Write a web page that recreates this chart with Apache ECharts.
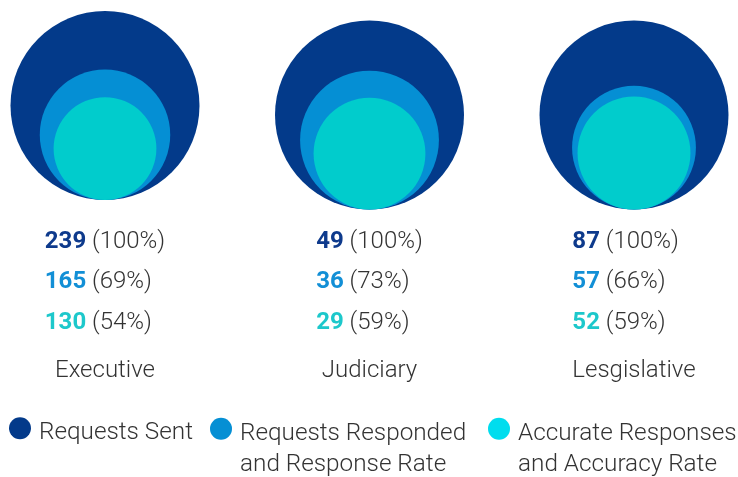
<!DOCTYPE html>
<html><head><meta charset="utf-8">
<script src="https://cdn.jsdelivr.net/npm/echarts@6/dist/echarts.min.js"></script>
<style>html,body{margin:0;padding:0;background:#fff}#c{width:738px;height:477px}</style>
</head><body><div id="c"></div>
<script>
// ---- data ----
const categories = ['Executive', 'Judiciary', 'Lesgislative'];
const seriesNames = ['Requests Sent', 'Requests Responded and Response Rate', 'Accurate Responses and Accuracy Rate'];
const legendLines = [['Requests Sent'], ['Requests Responded', 'and Response Rate'], ['Accurate Responses', 'and Accuracy Rate']];
const requestsSent = [239, 49, 87];
const requestsResponded = [165, 36, 57];
const accurateResponses = [130, 29, 52];
const pctSent = [100, 100, 100];
const pctResponded = [69, 73, 66];
const pctAccurate = [54, 59, 59];

// ---- style / layout ----
const circleColors = ['#033a8a', '#058fd4', '#01cccc'];
const legendColors = ['#033a8a', '#058fd4', '#00ddee'];
const numColors = ['#0e3a8c', '#128fd6', '#1dc8cb'];
const textColor = '#333333';
const FONT = 'Roboto';
const FS = 24;
const LFS = 24.3;
const OUTER_D = 189;           // pixel diameter of the full (100%) circle
const rowShift = [-9.5, 0, 0]; // vertical nudge per group
const legendLeft = [9, 210, 488];

const valueSets = [requestsSent, requestsResponded, accurateResponses];
const pctSets = [pctSent, pctResponded, pctAccurate];

const chart = echarts.init(document.getElementById('c'), null, {renderer: 'canvas'});

const series = valueSets.map((vals, s) => ({
  type: 'scatter',
  name: seriesNames[s],
  clip: false,
  silent: true,
  symbol: 'circle',
  itemStyle: {color: circleColors[s], opacity: 1},
  data: vals.map((v, i) => {
    const d = v / requestsSent[i] * OUTER_D;
    return {
      value: [categories[i], 0],
      symbolSize: d,
      symbolOffset: [0, -d / 2 + rowShift[i]]
    };
  })
}));

const labelRich = {
  p: {fontFamily: FONT, fontWeight: 300, fontSize: FS, color: textColor, lineHeight: 40.5, align: 'left'},
  cat: {fontFamily: FONT, fontWeight: 300, fontSize: FS, color: textColor, lineHeight: 55.5, align: 'center'}
};
numColors.forEach((c, k) => {
  labelRich['n' + k] = {fontFamily: FONT, fontWeight: 'bold', fontSize: FS, color: c, lineHeight: 40.5, align: 'left'};
});

const legends = seriesNames.map((nm, i) => {
  const lines = legendLines[i];
  const spacer = lines.length > 1 ? 's2' : 's1';
  return {
    data: [{name: nm, itemStyle: {color: legendColors[i]}}],
    left: legendLeft[i],
    top: lines.length > 1 ? 392.8 : 407.8,
    padding: 0,
    icon: 'circle',
    itemWidth: 28,
    itemHeight: 22,
    selectedMode: false,
    formatter: () => '{' + spacer + '| }\n' + lines.map(l => '{t|' + l + '}').join('\n'),
    textStyle: {
      fontFamily: FONT, fontWeight: 300, fontSize: LFS, color: textColor,
      rich: {
        s1: {fontSize: 10, lineHeight: 10},
        s2: {fontSize: 10, lineHeight: 41},
        t: {fontFamily: FONT, fontWeight: 300, fontSize: LFS, color: textColor, lineHeight: 31, align: 'left'}
      }
    }
  };
});

chart.setOption({
  backgroundColor: '#ffffff',
  animation: false,
  grid: {left: 105, right: 104, top: 0, bottom: 267.5, containLabel: false, outerBoundsMode: 'none'},
  xAxis: {
    type: 'category',
    data: categories,
    boundaryGap: false,
    axisLine: {show: false},
    axisTick: {show: false},
    splitLine: {show: false},
    axisLabel: {
      interval: 0,
      margin: 12,
      formatter: (val, idx) => {
        return pctSets.map((ps, k) =>
          '{n' + k + '|' + valueSets[k][idx] + '}{p| (' + ps[idx] + '%)}'
        ).join('\n') + '\n{cat|' + val + '}';
      },
      rich: labelRich
    }
  },
  yAxis: {type: 'value', min: 0, max: 1, show: false},
  legend: legends,
  series: series
});
</script>
</body></html>
